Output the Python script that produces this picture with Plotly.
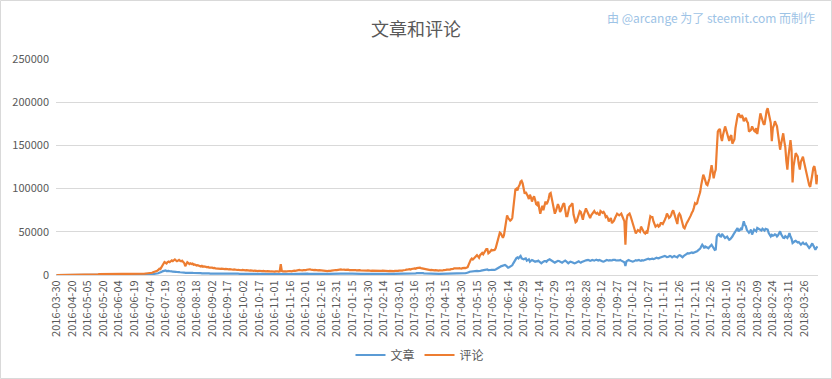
import plotly.graph_objects as go
import pandas as pd

# Daily values, in thousands
comments_k = [
    0.0,0.0,0.0,0.0,0.0,0.1,0.1,0.1,0.1,0.1,0.1,0.1,0.1,0.1,0.2,
    0.2,0.2,0.2,0.3,0.3,0.2,0.3,0.3,0.3,0.4,0.3,0.4,0.4,0.4,0.5,
    0.5,0.5,0.6,0.6,0.7,0.6,0.7,0.8,0.8,0.7,0.8,0.9,0.9,0.8,0.9,
    1.0,0.9,1.0,1.0,1.1,1.0,1.1,1.0,1.1,1.2,1.1,1.0,1.1,1.2,1.2,
    1.1,1.2,1.3,1.2,1.1,1.2,1.3,1.3,1.2,1.3,1.4,1.3,1.2,1.4,1.4,
    1.3,1.4,1.5,1.4,1.3,1.5,1.5,1.4,1.6,1.6,1.5,1.7,1.8,1.7,1.9,
    2.0,2.3,2.6,3.1,3.6,4.2,3.9,4.8,5.9,7.2,6.8,8.9,11.4,13.1,15.0,
    14.2,13.4,14.9,15.6,14.8,16.3,16.9,16.1,17.2,18.0,16.8,15.9,16.7,17.5,16.4,
    15.8,16.6,15.1,13.9,10.2,13.6,14.8,13.9,12.7,13.4,12.6,13.1,11.8,12.2,11.3,
    10.9,11.4,10.6,10.2,9.8,10.5,9.6,9.9,9.2,9.5,8.9,9.3,8.6,8.8,8.2,
    8.5,7.9,8.3,7.7,7.5,7.9,7.3,7.6,7.1,7.4,6.9,7.2,6.8,7.0,6.6,
    6.9,6.5,6.7,6.2,6.5,6.1,6.4,5.9,6.3,5.8,6.0,5.6,5.9,5.5,5.8,
    5.4,5.7,5.3,5.6,5.2,5.4,5.0,5.3,4.9,5.2,4.8,5.1,4.7,5.0,4.6,
    4.9,4.5,4.8,4.4,4.7,4.3,4.6,4.2,4.5,4.1,4.4,4.1,4.3,4.0,4.2,
    3.9,4.2,3.8,4.1,4.0,4.3,12.5,4.6,4.2,4.4,4.0,4.3,4.1,4.5,4.2,
    4.6,4.3,4.8,4.5,5.0,4.7,5.2,5.6,5.3,5.8,5.5,5.9,5.4,5.6,5.2,
    5.6,6.1,6.4,6.0,6.6,6.3,5.9,6.2,5.7,6.0,5.5,5.8,5.3,5.6,5.4,
    5.1,5.4,4.9,5.2,4.7,5.0,4.6,4.8,4.5,4.7,5.0,5.3,5.6,5.4,5.8,
    5.6,6.0,5.8,6.2,6.4,6.1,6.5,6.2,6.0,6.3,5.9,6.1,5.7,6.0,5.8,
    5.6,5.9,5.5,5.8,5.4,5.7,5.3,5.6,5.4,5.2,5.5,5.1,5.4,5.2,5.0,
    5.3,4.9,5.2,4.8,5.1,5.0,4.8,5.1,4.7,5.0,4.9,4.7,5.0,4.8,5.1,
    4.9,4.7,5.0,4.6,4.9,4.5,4.8,4.6,4.4,4.7,4.5,4.8,4.6,4.9,4.7,
    5.0,4.8,5.2,5.0,5.5,5.3,5.8,6.2,6.0,6.5,6.8,6.4,7.0,6.8,7.3,
    7.6,7.2,8.0,8.5,8.2,8.6,8.0,7.7,7.9,7.4,7.0,6.7,6.3,6.0,5.8,
    5.6,5.9,5.4,5.7,5.3,5.6,5.1,5.4,5.0,5.3,5.0,5.4,5.2,5.7,5.5,
    5.9,6.2,6.0,6.5,6.3,6.8,6.6,7.0,7.7,7.5,7.3,7.9,7.6,8.0,7.7,
    7.3,7.9,8.5,8.2,8.0,8.6,9.0,12.0,16.0,17.5,19.0,18.0,19.2,20.5,21.5,
    23,21.5,20,23,24,25.5,24,26,29,30,30,25,26,27,29,
    28.5,28.5,29,31,36,40,45,49,48,44,43,46,53,62,69,
    66,64,63,64,66,77,92,99,100,98,102,104,108,109,106,
    100,94,96,92,91,88,93,90,85,89,91,87,82,81,85,
    77,71,76,80,75,81,85,82,84,88,94,95,88,80,75,
    71,74,78,82,79,73,75,80,82,83,74,68,68,74,79,
    80,82,83,70,63,61,62,66,68,74,73,69,64,70,75,
    77,74,71,68,66,69,71,73,74,72,71,72,70,69,74,
    73,72,73,71,67,68,66,62,64,66,60,61,63,66,68,
    71,70,69,70,71,68,65,62,35,63,69,70,71,68,64,
    62,56,52,48,50,52,51,50,56,53,50,49,48,50,48,
    55,64,68,67,67,62,58,56,57,58,56,57,60,60,59,
    61,64,67,71,69,66,67,69,73,75,71,67,64,59,69,
    71,69,64,61,55,54,58,60,62,64,66,69,72,74,78,
    83,82,83,88,91,96,104,112,116,113,108,105,104,108,112,
    120,127,120,112,118,122,145,166,168,169,160,155,162,168,172,
    168,164,158,155,160,162,152,155,157,170,178,184,187,184,182,
    185,183,178,180,182,178,176,166,167,168,172,169,167,166,170,
    163,170,175,187,183,178,175,174,184,190,193,186,181,176,155,
    170,173,178,175,172,163,150,145,152,160,164,155,148,132,122,
    137,150,156,145,107,126,135,141,139,137,128,122,131,134,137,
    131,126,118,114,110,104,102,112,116,124,126,120,105,116,
]

posts_k = [
    0.0,0.0,0.0,0.0,0.0,0.0,0.0,0.0,0.1,0.0,0.1,0.1,0.1,0.1,0.1,
    0.1,0.1,0.1,0.1,0.1,0.1,0.1,0.1,0.1,0.1,0.1,0.1,0.1,0.1,0.2,
    0.2,0.2,0.2,0.2,0.2,0.2,0.2,0.3,0.3,0.2,0.3,0.3,0.3,0.3,0.3,
    0.3,0.3,0.3,0.3,0.3,0.4,0.3,0.4,0.3,0.4,0.4,0.4,0.3,0.4,0.4,
    0.4,0.4,0.4,0.4,0.4,0.4,0.4,0.5,0.4,0.4,0.5,0.4,0.5,0.5,0.4,
    0.5,0.5,0.5,0.5,0.5,0.5,0.5,0.6,0.5,0.6,0.6,0.6,0.6,0.7,0.7,
    0.7,0.8,0.9,1.0,1.1,1.3,1.2,1.6,2.0,2.6,2.8,3.4,4.2,4.6,5.0,
    5.2,4.6,4.9,4.7,4.3,4.5,4.1,3.8,3.9,4.2,3.6,3.5,3.8,3.4,3.2,
    3.3,3.0,3.1,2.8,2.4,2.7,2.9,2.6,2.5,2.7,2.4,2.5,2.3,2.4,2.2,
    2.3,2.1,2.2,2.0,2.1,1.9,2.0,1.9,2.1,1.8,1.9,1.8,1.9,1.7,1.8,
    1.7,1.8,1.6,1.7,1.6,1.8,1.7,1.6,1.7,1.5,1.6,1.7,1.5,1.6,1.5,
    1.6,1.5,1.6,1.4,1.5,1.6,1.5,1.4,1.5,1.4,1.5,1.4,1.5,1.3,1.4,
    1.5,1.4,1.3,1.4,1.3,1.4,1.3,1.4,1.2,1.3,1.4,1.3,1.2,1.3,1.2,
    1.3,1.2,1.3,1.2,1.3,1.2,1.3,1.1,1.2,1.3,1.2,1.1,1.2,1.1,1.2,
    1.1,1.2,1.1,1.2,1.1,1.2,1.5,1.2,1.1,1.2,1.1,1.2,1.1,1.2,1.1,
    1.2,1.2,1.3,1.2,1.3,1.2,1.3,1.4,1.3,1.4,1.3,1.4,1.3,1.4,1.3,
    1.4,1.5,1.5,1.4,1.5,1.5,1.4,1.5,1.4,1.5,1.4,1.4,1.3,1.4,1.3,
    1.3,1.4,1.3,1.3,1.2,1.3,1.2,1.3,1.2,1.3,1.3,1.4,1.4,1.4,1.5,
    1.5,1.6,1.5,1.6,1.6,1.5,1.6,1.5,1.6,1.5,1.6,1.5,1.5,1.6,1.5,
    1.5,1.6,1.5,1.5,1.4,1.5,1.4,1.5,1.4,1.4,1.5,1.4,1.4,1.3,1.4,
    1.4,1.3,1.4,1.3,1.4,1.3,1.3,1.4,1.3,1.3,1.3,1.2,1.3,1.3,1.4,
    1.3,1.2,1.3,1.2,1.3,1.2,1.3,1.2,1.2,1.3,1.2,1.3,1.3,1.4,1.3,
    1.4,1.4,1.5,1.4,1.5,1.5,1.6,1.7,1.7,1.8,1.8,1.7,1.9,1.8,1.9,
    2.0,1.9,2.1,2.2,2.1,2.2,2.1,2.0,2.1,1.9,1.8,1.8,1.7,1.6,1.6,
    1.5,1.6,1.5,1.5,1.4,1.5,1.4,1.5,1.4,1.4,1.4,1.5,1.4,1.5,1.5,
    1.6,1.7,1.6,1.7,1.7,1.8,1.8,1.9,2.0,1.9,2.0,2.1,2.0,2.1,2.0,
    2.0,2.1,2.2,2.1,2.2,2.3,2.4,3.1,3.8,4.0,4.2,3.9,4.3,4.6,4.4,
    4.7,4.5,4.3,4.8,5.0,5.2,4.9,5.3,5.8,6.2,6.4,5.6,5.3,5.8,6.1,
    5.9,5.6,6.0,6.3,6.8,7.5,8.5,9.2,10.0,10.4,10.2,10.9,11.5,10.8,9.6,
    8.5,9.0,9.8,10.4,11.2,13.5,15.8,18.1,19.6,20.4,19.3,20.8,22.0,19.3,18.6,
    18.1,18.8,19.3,16.6,17.5,18.1,15.4,16.2,17.4,16.8,15.9,15.4,16.0,15.8,16.6,
    15.5,14.5,13.5,14.6,15.5,16.2,16.2,15.4,16.8,17.5,18.1,17.4,16.6,15.5,14.8,
    14.3,15.0,15.8,16.4,16.2,15.2,14.6,14.3,15.2,16.0,16.6,15.8,14.6,13.5,14.5,
    15.4,15.0,14.2,13.8,13.5,13.8,14.6,15.4,15.8,14.9,14.3,15.2,16.0,16.6,16.6,
    17.0,17.4,17.4,17.0,16.4,16.8,17.4,17.0,16.6,17.2,17.8,17.2,16.8,17.4,16.6,
    16.2,15.6,15.4,16.0,16.8,17.4,17.0,16.6,17.2,16.6,16.8,17.4,17.8,17.4,16.8,
    17.2,17.0,16.8,17.4,16.6,16.2,15.4,14.8,10.4,15.8,16.6,17.4,16.8,16.2,15.6,
    15.4,15.8,16.6,17.2,16.6,17.0,17.4,16.8,16.4,17.0,16.6,17.2,17.8,18.4,18.1,
    18.9,18.2,18.1,18.6,18.9,18.4,18.9,19.4,20.0,19.5,19.3,20.0,20.4,21.0,20.8,
    21.2,22.0,21.5,20.6,20.8,21.5,22.0,21.6,20.4,21.2,22.0,21.4,20.8,20.4,22.3,
    23.0,22.5,21.5,20.5,21.8,23.1,23.5,24.3,25.2,24.8,25.5,25.5,26.0,25.5,25.8,
    26.2,26.8,27.4,28.5,29.5,30.5,33.0,35.0,33.5,31.0,33.0,32.5,31.5,31.0,32.5,
    33.5,35.0,33.0,30.0,29.0,29.5,44.5,46.5,47.4,45.0,44.5,47.5,46.0,45.0,42.8,
    43.5,44.5,42.5,40.8,41.5,42.5,44.5,46.7,48.5,50.0,53.2,54.4,50.5,51.5,53.5,
    52.0,56.0,62.1,58.0,56.5,52.0,50.5,49.0,50.5,52.5,46.7,50.0,52.5,51.5,50.5,
    54.4,53.5,53.0,52.5,51.5,53.5,52.5,51.5,53.5,53.0,52.5,48.6,46.0,44.7,46.5,
    45.5,46.0,47.0,46.5,44.7,46.0,48.0,50.5,47.0,44.5,43.0,42.8,45.0,44.0,42.8,
    45.0,48.6,44.5,42.0,37.0,38.5,39.0,39.5,38.5,37.5,38.0,37.0,35.1,36.5,37.5,
    36.0,35.5,36.5,35.0,33.5,31.2,32.5,34.0,36.6,34.0,32.0,29.3,31.5,33.2,
]

assert len(comments_k) == len(posts_k), (len(comments_k), len(posts_k))
n = len(posts_k)

# Category labels: first day, then daily from 2016-04-06
dates = ["2016-03-30"] + list(pd.date_range("2016-04-06", periods=n - 1).strftime("%Y-%m-%d"))
tick_labels = dates[::15]

posts = [v * 1000 for v in posts_k]
comments = [v * 1000 for v in comments_k]

FONT = "Noto Sans CJK SC, Noto Sans, sans-serif"
GREY = "#595959"

fig = go.Figure()
fig.add_trace(go.Scatter(x=dates, y=posts, name="文章", mode="lines",
                         line=dict(color="#5b9bd5", width=2.2)))
fig.add_trace(go.Scatter(x=dates, y=comments, name="评论", mode="lines",
                         line=dict(color="#ed7d31", width=2.2)))

L, R, T, B = 56, 14, 59, 104
W, H = 832, 379
pw, ph = W - L - R, H - T - B

fig.update_layout(
    width=W, height=H,
    margin=dict(l=L, r=R, t=T, b=B, pad=0, autoexpand=False),
    paper_bgcolor="white", plot_bgcolor="white",
    font=dict(family=FONT, color=GREY, size=11),
    title=dict(text="文章和评论", x=0.5, xanchor="center", y=1 - 30 / H, yanchor="middle",
               font=dict(size=18, color=GREY, family=FONT)),
    showlegend=True,
    legend=dict(orientation="h", x=(420 - L) / pw, xanchor="center", y=(ph - (355 - T)) / ph,
                yanchor="middle", font=dict(size=12, color=GREY), bgcolor="rgba(0,0,0,0)",
                itemwidth=30, tracegroupgap=0),
    xaxis=dict(type="category", tickmode="array", tickvals=tick_labels, ticktext=tick_labels,
               tickangle=-90, tickfont=dict(size=11, color=GREY), showgrid=False,
               showline=True, linecolor="#d9d9d9", linewidth=1, ticks="",
               range=[-0.5, n - 0.5], zeroline=False, automargin=False),
    yaxis=dict(range=[0, 250000], tickvals=[0, 50000, 100000, 150000, 200000, 250000],
               tickformat="d", showgrid=True, gridcolor="#d9d9d9", gridwidth=1,
               zeroline=False, showline=False, ticks="", automargin=False,
               ticklabelstandoff=6, tickfont=dict(size=11, color=GREY)),
    annotations=[dict(text="由 @arcange 为了 steemit.com 而制作", xref="paper", yref="paper",
                      x=(817 - L) / pw, y=(ph - (17 - T)) / ph, xanchor="right", yanchor="middle",
                      showarrow=False, font=dict(size=12, color="#9dc3e6", family=FONT))],
    shapes=[dict(type="rect", xref="paper", yref="paper",
                 x0=(0.5 - L) / pw, x1=(W - 0.5 - L) / pw,
                 y0=(ph - (H - 0.5 - T)) / ph, y1=(ph - (0.5 - T)) / ph,
                 line=dict(color="#d9d9d9", width=1), fillcolor="rgba(0,0,0,0)", layer="below")],
)

fig.write_html("out.html", config={"displayModeBar": False},
               post_script="document.body.style.margin='0';document.body.style.overflow='hidden';")
